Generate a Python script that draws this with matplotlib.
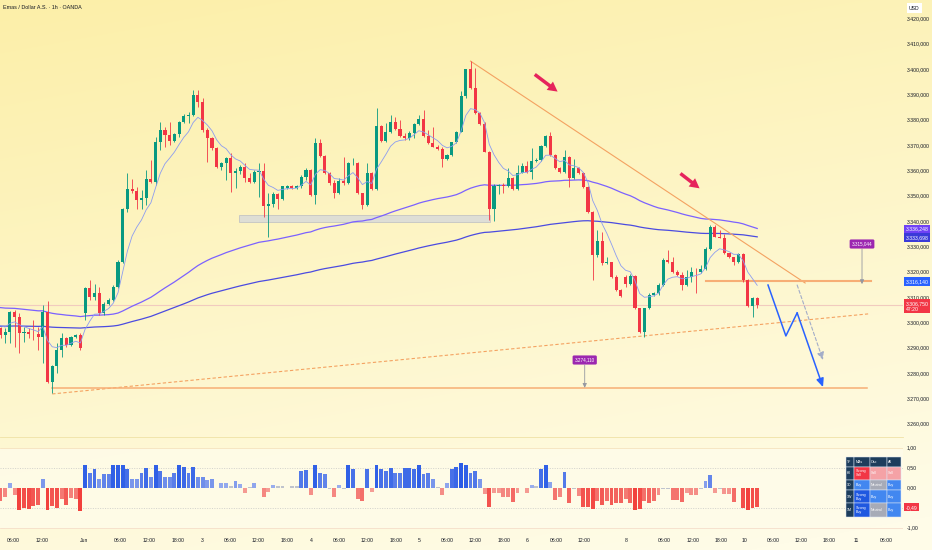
import numpy as np
import matplotlib
matplotlib.use("Agg")
import matplotlib.pyplot as plt
import matplotlib.transforms as mtransforms
from matplotlib.patches import Rectangle, FancyArrowPatch
from matplotlib.lines import Line2D

# ---------------- data ----------------
opens = [3297.6, 3294.9, 3296.3, 3303.9, 3301.9, 3295.6, 3296.0, 3295.5, 3295.2, 3294.3,
         3304.2, 3276.5, 3282.8, 3289.0, 3293.6, 3291.0, 3294.0, 3294.9, 3303.5, 3313.4,
         3310.1, 3311.4, 3303.5, 3307.4, 3308.8, 3314.0, 3323.9, 3344.7, 3352.6, 3351.9,
         3348.2, 3348.9, 3356.4, 3355.5, 3371.0, 3375.9, 3373.9, 3371.5, 3374.3, 3379.2,
         3381.4, 3381.8, 3389.9, 3387.0, 3375.9, 3372.6, 3368.7, 3361.2, 3362.8, 3365.0,
         3358.8, 3359.7, 3361.2, 3356.8, 3355.5, 3359.5, 3359.8, 3345.9, 3346.7, 3350.7,
         3348.6, 3353.2, 3353.6, 3352.9, 3353.6, 3357.5, 3360.1, 3350.1, 3370.9, 3365.7,
         3359.1, 3354.9, 3350.9, 3355.9, 3354.9, 3362.8, 3363.0, 3350.9, 3346.3, 3359.1,
         3352.5, 3377.5, 3371.7, 3375.3, 3379.2, 3376.2, 3373.6, 3372.6, 3374.6, 3378.3,
         3380.3, 3373.6, 3370.7, 3369.3, 3368.3, 3364.3, 3365.9, 3371.1, 3375.3, 3389.5,
         3399.9, 3392.4, 3382.8, 3378.3, 3367.4, 3344.6, 3353.9, 3354.1, 3353.6, 3356.8,
         3352.5, 3359.1, 3361.7, 3359.5, 3363.8, 3364.1, 3369.6, 3373.6, 3366.1, 3360.8,
         3359.5, 3365.4, 3356.8, 3360.8, 3358.8, 3353.3, 3343.7, 3326.5, 3332.2, 3323.2,
         3323.9, 3318.0, 3312.7, 3318.0, 3315.1, 3318.2, 3305.5, 3296.3, 3305.5, 3310.7,
         3311.4, 3314.7, 3324.6, 3323.9, 3320.0, 3318.6, 3314.7, 3318.0, 3320.0, 3319.7,
         3321.0, 3328.8, 3337.7, 3333.8, 3333.2, 3327.2, 3325.9, 3323.6, 3326.8, 3316.7,
         3306.4, 3309.4]
highs = [3298.2, 3297.6, 3304.5, 3304.8, 3303.5, 3298.2, 3297.6, 3300.9, 3298.2, 3306.8,
         3308.5, 3283.1, 3291.7, 3295.6, 3294.3, 3294.6, 3295.3, 3295.9, 3314.0, 3316.7,
         3315.1, 3314.0, 3308.0, 3309.4, 3314.7, 3324.6, 3345.0, 3359.0, 3356.5, 3353.5,
         3352.2, 3360.3, 3364.0, 3373.2, 3378.9, 3377.2, 3379.2, 3374.8, 3379.6, 3382.4,
         3383.1, 3391.7, 3391.7, 3388.4, 3376.6, 3373.0, 3369.3, 3363.4, 3365.4, 3366.7,
         3360.8, 3362.1, 3362.8, 3358.8, 3360.1, 3362.8, 3362.8, 3350.9, 3351.6, 3351.2,
         3353.9, 3354.2, 3354.0, 3354.2, 3358.2, 3360.8, 3360.4, 3372.6, 3372.2, 3366.1,
         3359.5, 3356.2, 3356.8, 3365.4, 3363.4, 3364.7, 3363.4, 3351.2, 3362.8, 3359.5,
         3384.5, 3377.9, 3378.6, 3381.8, 3381.2, 3379.9, 3374.6, 3375.5, 3378.6, 3381.8,
         3383.8, 3375.9, 3377.0, 3370.0, 3369.3, 3366.4, 3371.3, 3375.7, 3391.4, 3400.0,
         3403.3, 3400.3, 3383.0, 3379.2, 3367.8, 3354.5, 3354.6, 3354.9, 3360.8, 3357.5,
         3362.1, 3362.8, 3363.8, 3368.7, 3364.7, 3370.0, 3374.0, 3375.3, 3366.5, 3361.2,
         3368.0, 3365.7, 3364.3, 3361.2, 3359.5, 3353.6, 3344.1, 3336.4, 3335.7, 3325.9,
         3323.9, 3318.6, 3313.0, 3318.6, 3319.0, 3318.6, 3305.5, 3305.1, 3311.4, 3312.1,
         3315.4, 3325.2, 3328.5, 3325.9, 3320.6, 3320.0, 3320.6, 3321.9, 3321.3, 3322.6,
         3329.8, 3338.4, 3338.4, 3336.4, 3334.8, 3327.5, 3324.8, 3327.5, 3327.2, 3317.0,
         3309.8, 3310.1]
lows = [3293.6, 3291.7, 3291.7, 3290.3, 3287.7, 3292.3, 3293.6, 3293.0, 3289.0, 3283.8,
        3275.9, 3271.9, 3279.8, 3286.4, 3290.3, 3290.6, 3293.6, 3289.0, 3300.9, 3308.8,
        3308.8, 3302.8, 3303.0, 3307.0, 3308.5, 3313.6, 3323.5, 3343.6, 3350.9, 3344.9,
        3344.9, 3346.3, 3354.8, 3354.2, 3368.0, 3369.3, 3370.0, 3371.2, 3373.3, 3378.5,
        3378.5, 3381.5, 3385.1, 3375.3, 3363.4, 3368.0, 3360.8, 3360.1, 3356.2, 3351.6,
        3352.9, 3358.5, 3355.5, 3354.9, 3355.1, 3349.6, 3341.7, 3333.8, 3345.7, 3344.6,
        3348.3, 3352.5, 3352.5, 3352.5, 3353.2, 3356.2, 3349.9, 3346.7, 3365.4, 3358.6,
        3354.2, 3348.9, 3350.7, 3354.2, 3354.6, 3362.1, 3350.7, 3344.6, 3345.9, 3352.2,
        3352.2, 3371.3, 3371.3, 3374.9, 3375.9, 3373.0, 3372.0, 3372.0, 3372.9, 3377.9,
        3373.0, 3370.4, 3369.0, 3368.0, 3361.2, 3364.0, 3365.7, 3370.9, 3375.0, 3388.4,
        3392.1, 3382.3, 3378.0, 3367.1, 3340.4, 3340.0, 3350.7, 3351.0, 3353.3, 3352.2,
        3352.2, 3358.8, 3358.8, 3356.5, 3363.4, 3363.8, 3369.3, 3365.7, 3360.4, 3358.8,
        3359.1, 3353.3, 3356.5, 3358.5, 3352.9, 3343.3, 3316.7, 3325.9, 3322.6, 3322.9,
        3317.3, 3312.3, 3309.8, 3314.0, 3314.7, 3305.1, 3295.9, 3294.3, 3305.1, 3310.4,
        3310.7, 3314.3, 3323.5, 3319.6, 3318.2, 3312.7, 3314.3, 3316.0, 3311.4, 3319.3,
        3320.6, 3328.5, 3333.5, 3333.1, 3326.9, 3325.5, 3322.6, 3323.5, 3316.0, 3306.1,
        3302.2, 3305.7]
closes = [3294.9, 3296.3, 3303.9, 3301.9, 3295.6, 3296.0, 3295.5, 3295.2, 3294.3, 3304.2,
          3276.5, 3282.8, 3289.0, 3293.6, 3291.0, 3294.0, 3294.9, 3289.9, 3313.4, 3310.1,
          3311.4, 3303.5, 3307.4, 3308.8, 3314.0, 3323.9, 3344.7, 3352.6, 3351.9, 3348.2,
          3348.9, 3356.4, 3355.5, 3371.0, 3375.9, 3373.9, 3371.5, 3374.3, 3379.2, 3381.4,
          3381.8, 3389.9, 3387.0, 3375.9, 3372.6, 3368.7, 3361.2, 3362.8, 3365.0, 3358.8,
          3359.7, 3361.2, 3356.8, 3355.5, 3359.5, 3359.8, 3345.9, 3346.7, 3350.7, 3348.6,
          3353.6, 3353.6, 3352.9, 3353.6, 3357.5, 3360.1, 3350.1, 3370.9, 3365.7, 3359.1,
          3354.9, 3350.9, 3355.9, 3354.9, 3362.8, 3363.0, 3350.9, 3346.3, 3359.1, 3352.5,
          3377.5, 3371.7, 3375.3, 3379.2, 3376.2, 3373.6, 3372.6, 3374.6, 3378.3, 3380.3,
          3373.6, 3370.7, 3369.3, 3368.3, 3364.3, 3365.9, 3371.1, 3375.3, 3389.5, 3399.9,
          3392.4, 3382.8, 3378.3, 3367.4, 3344.6, 3353.9, 3354.1, 3353.6, 3356.8, 3352.5,
          3359.1, 3361.7, 3359.5, 3363.8, 3364.1, 3369.6, 3373.6, 3366.1, 3360.8, 3359.5,
          3365.4, 3356.8, 3360.8, 3358.8, 3353.3, 3343.7, 3326.5, 3332.2, 3323.2, 3323.9,
          3318.0, 3312.7, 3310.4, 3315.1, 3318.2, 3305.5, 3296.3, 3305.5, 3310.7, 3311.4,
          3314.7, 3324.6, 3323.9, 3320.0, 3318.6, 3314.7, 3318.0, 3320.0, 3319.7, 3321.0,
          3328.8, 3337.7, 3333.8, 3333.2, 3327.2, 3325.9, 3323.6, 3326.8, 3316.7, 3306.4,
          3309.4, 3306.75]

osc_values = [-0.33, -0.22, 0.11, -0.19, -0.56, -0.50, -0.52, -0.46, -0.42, 0.21,
              -0.56, -0.46, -0.50, -0.29, -0.44, -0.25, -0.28, -0.57, 0.57, 0.375,
              0.46, 0.225, 0.34, 0.34, 0.57, 0.57, 0.57, 0.475, 0.225, 0.225,
              0.375, 0.50, 0.275, 0.57, 0.425, 0.275, 0.275, 0.375, 0.57, 0.51,
              0.375, 0.52, 0.275, 0.275, 0.19, 0.225, 0.0, 0.11, 0.11, 0.04,
              0.18, 0.09, -0.125, 0.03, 0.125, 0.0, -0.22, -0.11, 0.075, 0.04,
              0.04, 0.0, 0.04, 0.04, 0.41, 0.44, -0.18, 0.57, 0.375, 0.34,
              -0.03, -0.22, 0.075, -0.04, 0.57, 0.46, -0.275, -0.33, 0.46, -0.11,
              0.57, 0.47, 0.42, 0.50, 0.375, 0.375, 0.50, 0.50, 0.475, 0.57,
              0.35, 0.375, 0.225, 0.02, -0.19, 0.125, 0.46, 0.525, 0.61, 0.57,
              0.375, 0.42, 0.21, -0.15, -0.475, -0.125, -0.125, -0.225, -0.225, -0.36,
              -0.125, 0.0, -0.125, 0.075, 0.04, 0.475, 0.57, 0.14, -0.31, -0.225,
              0.40, -0.39, -0.03, -0.21, -0.475, -0.48, -0.525, -0.33, -0.44, -0.33,
              -0.44, -0.39, -0.39, -0.29, -0.375, -0.56, -0.52, -0.33, -0.39, -0.33,
              -0.17, -0.03, -0.03, -0.31, -0.31, -0.36, -0.125, -0.19, -0.19, -0.03,
              0.17, 0.325, -0.125, -0.03, -0.15, -0.15, -0.35, -0.01, -0.50, -0.56,
              -0.50, -0.49]

ema_fast_start = 3300.0
ema100_start = 3306.0
ema200_start = 3298.5

price_ticks = list(range(3260, 3421, 10))
osc_ticks = [1.0, 0.5, 0.0, -1.0]

time_tick_bars = [2.66, 8.83, 17.77, 25.4, 31.6, 37.8, 42.9, 48.8, 54.8, 61.0, 66.1, 72.0,
                  78.0, 84.1, 89.0, 95.0, 101.0, 107.1, 112.0, 118.2, 124.2, 133.1, 141.2,
                  147.3, 153.3, 158.4, 164.4, 170.3, 176.3, 182.0, 188.4]
time_tick_labels = ['06:00', '12:00', 'Jun', '06:00', '12:00', '18:00', '3', '06:00', '12:00',
                    '18:00', '4', '06:00', '12:00', '18:00', '5', '06:00', '12:00', '18:00',
                    '6', '06:00', '12:00', '8', '06:00', '12:00', '18:00', '10', '06:00',
                    '12:00', '18:00', '11', '06:00']

# drawings (bar index, price)
down_trend = ([100.0, 171.2], [3403.1, 3315.5])
up_trend = ([11.0, 184.6], [3271.7, 3303.3])
resistance_level = 3316.14
resistance_span = (150.0, 185.2)
target_level = 3274.11
target_span = (11.0, 184.3)
zone_bars = (50.8, 104.2)
zone_prices = (3339.7, 3342.3)
proj_bars = [163.3, 167.1, 169.5, 175.0]
proj_prices = [3314.7, 3294.6, 3303.7, 3274.4]
alt_bars = [169.5, 175.0]
alt_prices = [3314.7, 3285.1]
arrow1 = ((113.2, 3398.5), (119.0, 3390.4))
arrow2 = ((144.2, 3359.4), (149.2, 3352.2))
note1 = (183.3, 3330.9, 3328.9, 3315.044)
note2 = (124.3, 3285.1, 3283.1, 3274.110)

last_price = 3306.75
countdown = '47:20'
ema100_last = 3336.248
ema200_last = 3333.698
osc_last = -0.49

table_header = ['TF', 'MAs', 'Osc', 'All']
table_tf = ['60', '1D', '1W', '1M']
table_mas = ['Strong Sell', 'Buy', 'Strong Buy', 'Strong Buy']
table_osc = ['Sell', 'Neutral', 'Buy', 'Neutral']
table_all = ['Sell', 'Buy', 'Buy', 'Buy']

title = 'Emas / Dollar A.S. · 1h · OANDA'

# ---------------- helpers ----------------
W, H = 932, 550


def fx(px):
    return px / W


def fy(py):
    return 1 - py / H


def eu(v, d=3):
    s = f"{v:,.{d}f}"
    return s.replace(',', 'X').replace('.', ',').replace('X', '.')


def ema(values, span, seed):
    a = 2.0 / (span + 1)
    out, e = [], seed
    for v in values:
        e = e + a * (v - e)
        out.append(e)
    return np.array(out)


def mix(c1, c2, t):
    c1 = np.array(matplotlib.colors.to_rgb(c1))
    c2 = np.array(matplotlib.colors.to_rgb(c2))
    return tuple(c1 * (1 - t) + c2 * t)


FONT = ['Liberation Sans', 'DejaVu Sans']
plt.rcParams['font.family'] = FONT
FS = 3.7
TXT = '#131722'

fig = plt.figure(figsize=(W / 100, H / 100), dpi=100)

# background gradient
bg = fig.add_axes([0, 0, 1, 1], zorder=-10)
yy, xx = np.mgrid[0:H, 0:W]
t = np.clip(0.8 * yy / H + 0.25 * xx / W, 0, 1)[..., None]
top = np.array([252, 239, 168]) / 255
bot = np.array([255, 252, 232]) / 255
img = top * (1 - t) + bot * t
bg.imshow(img, aspect='auto', extent=[0, 1, 0, 1], origin='upper')
bg.axis('off')

# main axes
ax = fig.add_axes([0, fy(436), fx(903), 436 / H])
ax.patch.set_alpha(0)
for s in ax.spines.values():
    s.set_visible(False)
n = len(closes)
idx = np.arange(n)
ax.set_xlim(-0.5 / 4.7, (903 - 0.5) / 4.7)
ax.set_ylim(3420 - (436 - 18.3) / 2.533, 3420 + 18.3 / 2.533)

O = np.array(opens); Hh = np.array(highs); L = np.array(lows); C = np.array(closes)
up_col, dn_col = '#089981', '#f23645'
cols = [up_col if c >= o else dn_col for o, c in zip(O, C)]

# current price line
ax.axhline(last_price, color='#f1cbbf', lw=0.8, zorder=1)

# support zone
ax.add_patch(Rectangle((zone_bars[0], zone_prices[0]), zone_bars[1] - zone_bars[0],
                       zone_prices[1] - zone_prices[0], fc='#d7d9db', ec='#b9bcc2',
                       lw=0.6, alpha=0.8, zorder=2))

ax.vlines(idx, L, Hh, colors=cols, lw=0.6, zorder=4)
ax.bar(idx, np.maximum(np.abs(C - O), 0.15), bottom=np.minimum(O, C), width=0.68,
       color=cols, lw=0, zorder=5)

ef = ema(C, 7, ema_fast_start)
e100 = ema(C, 100, ema100_start)
e200 = ema(C, 200, ema200_start)
ax.plot(idx, ef, color='#8c9cf0', lw=0.6, zorder=6)
ax.plot(idx, e100, color='#7b61ff', lw=0.9, zorder=3)
ax.plot(idx, e200, color='#4b4be0', lw=0.9, zorder=3)

orange = '#f4a261'
ax.plot(*down_trend, color=orange, lw=0.8, zorder=3)
ax.plot(*up_trend, color=orange, lw=0.8, ls=(0, (3, 2)), zorder=3)
ax.plot(resistance_span, [resistance_level] * 2, color='#f7ae75', lw=1.5, zorder=3)
ax.plot(target_span, [target_level] * 2, color='#f7ae75', lw=1.1, zorder=3)

# projections
ax.plot(proj_bars[:-1], proj_prices[:-1], color='#2962ff', lw=1.1, zorder=7)
ax.annotate('', xy=(proj_bars[-1], proj_prices[-1]), xytext=(proj_bars[-2], proj_prices[-2]),
            arrowprops=dict(arrowstyle='-|>,head_length=0.5,head_width=0.22', color='#2962ff',
                            lw=1.1, shrinkA=0, shrinkB=0), zorder=7)
ax.annotate('', xy=(alt_bars[1], alt_prices[1]), xytext=(alt_bars[0], alt_prices[0]),
            arrowprops=dict(arrowstyle='-|>,head_length=0.45,head_width=0.2', color='#a3adc8',
                            lw=0.8, ls=(0, (3, 2)), shrinkA=0, shrinkB=0), zorder=7)

# crimson arrows
for a in (arrow1, arrow2):
    ax.add_patch(FancyArrowPatch(a[0], a[1], arrowstyle='simple,head_width=0.75,head_length=0.7,tail_width=0.25',
                                 mutation_scale=10, color='#e6245c', lw=0, zorder=8))

# price notes
for bx, by, lb, val in (note1, note2):
    ax.annotate('', xy=(bx, val), xytext=(bx, lb),
                arrowprops=dict(arrowstyle='-|>,head_length=0.25,head_width=0.12', color='#9598a1',
                                lw=0.6, shrinkA=0, shrinkB=0), zorder=8)
    ax.text(bx, by, eu(val), fontsize=3.3, color='white', ha='center', va='center', zorder=9,
            bbox=dict(boxstyle='round,pad=0.45,rounding_size=0.3', fc='#9c27b0', ec='none'))

# price axis
ax.yaxis.tick_right()
ax.set_yticks(price_ticks)
ax.set_yticklabels([eu(v) for v in price_ticks])
ax.tick_params(axis='y', length=0, pad=2.9, labelsize=FS, labelcolor=TXT)
ax.set_xticks([])

trans = mtransforms.blended_transform_factory(ax.transAxes, ax.transData)
xtag = 1 + 2.5 / 903


def tag(axis, tr, y, text, fc, dy=0.0, va='center'):
    axis.annotate(text, xy=(xtag, y), xycoords=tr, xytext=(0, dy), textcoords='offset points',
                  fontsize=FS, color='white', ha='left', va=va, annotation_clip=False, zorder=10,
                  linespacing=1.15,
                  bbox=dict(boxstyle='square,pad=0.32', fc=fc, ec='none'))


tag(ax, trans, ema100_last, eu(ema100_last), '#6f42f5', dy=1.2)
tag(ax, trans, ema200_last, eu(ema200_last), '#3a3ad8', dy=-0.4)
tag(ax, trans, resistance_level, eu(resistance_level), '#2962ff')
tag(ax, trans, last_price, eu(last_price) + '\n' + countdown, '#f23645', dy=3.0, va='top')

fig.text(fx(909), fy(8), 'USD', fontsize=FS, color=TXT, ha='left', va='center',
         bbox=dict(boxstyle='square,pad=0.4', fc='white', ec='none'))
fig.text(fx(3), fy(7.3), title, fontsize=3.9, color=TXT, ha='left', va='center')

# oscillator pane
fig.add_artist(Line2D([0, fx(903)], [fy(437), fy(437)], color='#efe2a6', lw=0.6))
ax2 = fig.add_axes([0, fy(531), fx(903), (531 - 437) / H])
ax2.patch.set_alpha(0)
for s in ax2.spines.values():
    s.set_visible(False)
ax2.set_xlim(ax.get_xlim())
ax2.set_ylim(-(531 - 487.7) / 40, (487.7 - 437) / 40)
ax2.fill_between([-1, 200], -1, 1, color='#fffcea', alpha=0.8, lw=0, zorder=0)
ax2.axhline(1.0, color='#f3ddb5', lw=0.5, zorder=1)
ax2.axhline(-1.0, color='#f3d8c6', lw=0.5, zorder=1)
for lv in (0.5, -0.5):
    ax2.axhline(lv, color='#c4c4c4', lw=0.5, ls=(0, (1.5, 2)), zorder=1)

osc = np.array(osc_values)
oc = []
for v in osc:
    m = min(abs(v) / 0.6, 1.0)
    if abs(v) < 0.06:
        oc.append('#bfc3cd')
    elif v > 0:
        oc.append(mix('#a9b9ee', '#2a5be6', m))
    else:
        oc.append(mix('#f6b3ab', '#f23a35', m))
ax2.bar(np.arange(len(osc)), osc, width=0.82, color=oc, lw=0, zorder=3)

ax2.yaxis.tick_right()
ax2.set_yticks(osc_ticks)
ax2.set_yticklabels([eu(v, 2) for v in osc_ticks])
ax2.tick_params(axis='y', length=0, pad=2.9, labelsize=FS, labelcolor=TXT)
ax2.set_xticks(time_tick_bars)
ax2.set_xticklabels(time_tick_labels)
ax2.tick_params(axis='x', length=0, pad=5.0, labelsize=FS, labelcolor=TXT)
trans2 = mtransforms.blended_transform_factory(ax2.transAxes, ax2.transData)
tag(ax2, trans2, osc_last, eu(osc_last, 2), '#f23645')

# rating table
col_x = [846, 854.3, 870, 886.7, 901]
row_y = [457.3, 466.7, 480, 490, 503.3, 517.3]
navy = '#1d3d5c'
cell_col = {'Strong Sell': '#f23645', 'Sell': '#f5a2a6', 'Neutral': '#a7abb7',
            'Buy': '#4287f0', 'Strong Buy': '#1f58e0'}


def cell(c, r, text, fc):
    x0, x1 = col_x[c], col_x[c + 1]
    y0, y1 = row_y[r], row_y[r + 1]
    fig.add_artist(Rectangle((fx(x0), fy(y1)), fx(x1) - fx(x0), fy(y0) - fy(y1),
                             transform=fig.transFigure, fc=fc, ec='#dde6f5', lw=0.35))
    lab = text.replace(' ', '\n') if text.startswith('Strong') else text
    fig.text(fx(x0 + 1.2), fy((y0 + y1) / 2), lab, fontsize=2.6, color='white',
             ha='left', va='center', linespacing=1.0)


for c, h in enumerate(table_header):
    cell(c, 0, h, navy)
for r in range(4):
    cell(0, r + 1, table_tf[r], navy)
    cell(1, r + 1, table_mas[r], cell_col[table_mas[r]])
    cell(2, r + 1, table_osc[r], cell_col[table_osc[r]])
    cell(3, r + 1, table_all[r], cell_col[table_all[r]])

fig.savefig('out.png', dpi=100)
